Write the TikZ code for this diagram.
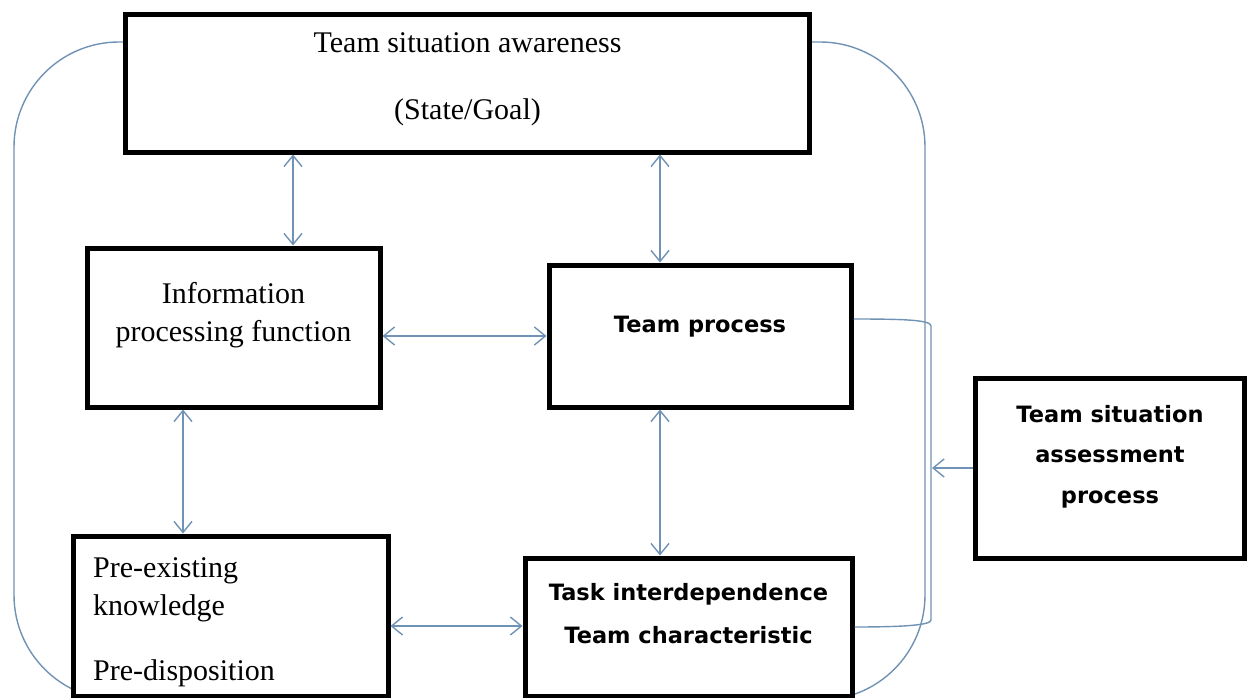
\documentclass[tikz,border=0pt]{standalone}
\usepackage{fontspec}
\setmainfont{Liberation Serif}
\newfontfamily\boxsans{DejaVu Sans}
\usetikzlibrary{arrows.meta,backgrounds}
\definecolor{linkc}{RGB}{112,146,180}
\begin{document}
\begin{tikzpicture}[x=1pt,y=-1pt,
  box/.style={draw=black, line width=5pt, fill=white, inner sep=0pt},
  link/.style={draw=linkc, line width=1.4pt},
  barb/.tip={Straight Barb[length=11pt,width=18pt]},
  biarrow/.style={link, barb-barb},
  onearrow/.style={link, -barb},
  serif/.style={font=\fontsize{30}{36}\selectfont, inner sep=0pt, anchor=base},
  sans/.style={font=\boxsans\bfseries\fontsize{22.5}{27}\selectfont, inner sep=0pt, anchor=base}]
\useasboundingbox (0,0) rectangle (1247,698);
\clip (0,0) rectangle (1247,698);

% helper coordinates
\coordinate (ytop) at (0,42);
\coordinate (lowL) at (14,700);
\coordinate (topR) at (925,42);
\coordinate (xa) at (293,0);
\coordinate (xb) at (660,0);
\coordinate (xc) at (183,0);
\coordinate (ya) at (0,336);
\coordinate (yb) at (0,626);
\coordinate (ybt) at (0,319);
\coordinate (ybb) at (0,627);
\coordinate (brk) at (932,0);

% boxes
\node[box, minimum width=684pt, minimum height=137pt] (tsa) at (467.5,83.5) {};
\node[box, minimum width=293pt, minimum height=159pt] (info) at (233.5,327.5) {};
\node[box, minimum width=302pt, minimum height=142pt] (tp) at (700,336) {};
\node[box, minimum width=315pt, minimum height=160pt] (pre) at (230.5,616) {};
\node[box, minimum width=327pt, minimum height=138pt] (task) at (688.5,627) {};
\node[box, minimum width=269pt, minimum height=180pt] (tsap) at (1109.5,468) {};

% outer loop, behind the boxes
\begin{scope}[on background layer]
\draw[link, rounded corners=105pt] (tsa.west |- ytop) -| (lowL) -| (topR) -- (tsa.east |- ytop);
\end{scope}

% connectors
\draw[biarrow] (tsa.south -| xa) -- (info.north -| xa);
\draw[biarrow] (tsa.south -| xb) -- (tp.north -| xb);
\draw[biarrow] (info.east |- ya) -- (tp.west |- ya);
\draw[biarrow] (info.south -| xc) -- (pre.north -| xc);
\draw[biarrow] (tp.south -| xb) -- (task.north -| xb);
\draw[biarrow] (pre.east |- yb) -- (task.west |- yb);
\draw[link] (tp.east |- ybt) .. controls (905,319) and (931,320) .. (931,326)
  -- (931,620) .. controls (931,625) and (905,627) .. (task.east |- ybb);
\draw[onearrow] (tsap.west) -- (brk |- tsap.west);

% texts
\node[serif] (t1) at (467.5,53) {Team situation awareness};
\node[serif] (t2) at (467.5,120) {(State/Goal)};
\node[serif] (t3) at (233.5,303) {Information};
\node[serif] (t4) at (233.5,341) {processing function};
\node[sans] (t5) at (700,332) {Team process};
\node[serif, anchor=base west] (t6) at (93,577) {Pre-existing};
\node[serif, anchor=base west] (t7) at (93,615) {knowledge};
\node[serif, anchor=base west] (t8) at (93,680) {Pre-disposition};
\node[sans] (t9) at (688.5,600) {Task interdependence};
\node[sans] (t10) at (688.5,643) {Team characteristic};
\node[sans] (t11) at (1110,422) {Team situation};
\node[sans] (t12) at (1110,462) {assessment};
\node[sans] (t13) at (1110,503) {process};
\end{tikzpicture}
\end{document}
